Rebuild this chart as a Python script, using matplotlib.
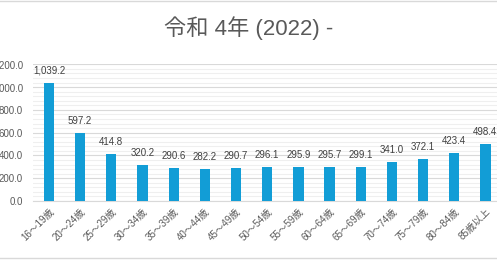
import matplotlib
matplotlib.use("Agg")
import matplotlib.pyplot as plt
from matplotlib.ticker import MultipleLocator, FuncFormatter
from matplotlib.lines import Line2D

categories = ["16～19歳", "20～24歳", "25～29歳", "30～34歳", "35～39歳", "40～44歳",
              "45～49歳", "50～54歳", "55～59歳", "60～64歳", "65～69歳", "70～74歳",
              "75～79歳", "80～84歳", "85歳以上"]
values = [1039.2, 597.2, 414.8, 320.2, 290.6, 282.2, 290.7, 296.1, 295.9, 295.7,
          299.1, 341.0, 372.1, 423.4, 498.4]
title = "令和 4年 (2022) -"

fam = ["Liberation Sans", "Noto Sans CJK JP", "DejaVu Sans"]
plt.rcParams['font.family'] = fam

fig = plt.figure(figsize=(4.97, 2.60), dpi=100)
ax = fig.add_axes([33.4/497, 59/260, (501-33.4)/497, 136.7/260])

x = list(range(len(categories)))
bars = ax.bar(x, values, width=0.33, color="#129DD6", zorder=3)
for xi, v in zip(x, values):
    ax.annotate(f"{v:,.1f}", (xi, v), xytext=(0, 5), textcoords="offset points",
                ha="center", va="bottom", fontsize=7, color="#404040")

ax.set_xlim(-0.5, len(categories) - 0.5)
ax.set_ylim(0, 1200)
ax.yaxis.set_major_locator(MultipleLocator(200))
ax.yaxis.set_minor_locator(MultipleLocator(40))
ax.yaxis.set_major_formatter(FuncFormatter(lambda v, p: f"{v:,.1f}"))
ax.grid(axis="y", which="major", color="#d9d9d9", linewidth=0.8, zorder=0)
ax.grid(axis="y", which="minor", color="#efefef", linewidth=0.8, zorder=0)
for s in ["top", "right", "left"]:
    ax.spines[s].set_visible(False)
ax.spines["bottom"].set_color("#d9d9d9")
ax.tick_params(axis="y", which="both", length=0, labelsize=7, labelcolor="#595959", pad=7.5)
ax.tick_params(axis="x", length=0, labelsize=7, labelcolor="#595959", pad=4)
ax.set_xticks(x)
ax.set_xticklabels(categories, rotation=45, ha="right", va="top", rotation_mode="anchor")

fig.text(0.5, 0.89, title, ha="center", va="center", fontsize=16, color="#595959")

fig.add_artist(Line2D([0, 1], [0.998, 0.998], color="#d9d9d9", linewidth=1, transform=fig.transFigure))
fig.add_artist(Line2D([0, 1], [0.008, 0.008], color="#d9d9d9", linewidth=1, transform=fig.transFigure))

fig.savefig("out.png", dpi=100)
